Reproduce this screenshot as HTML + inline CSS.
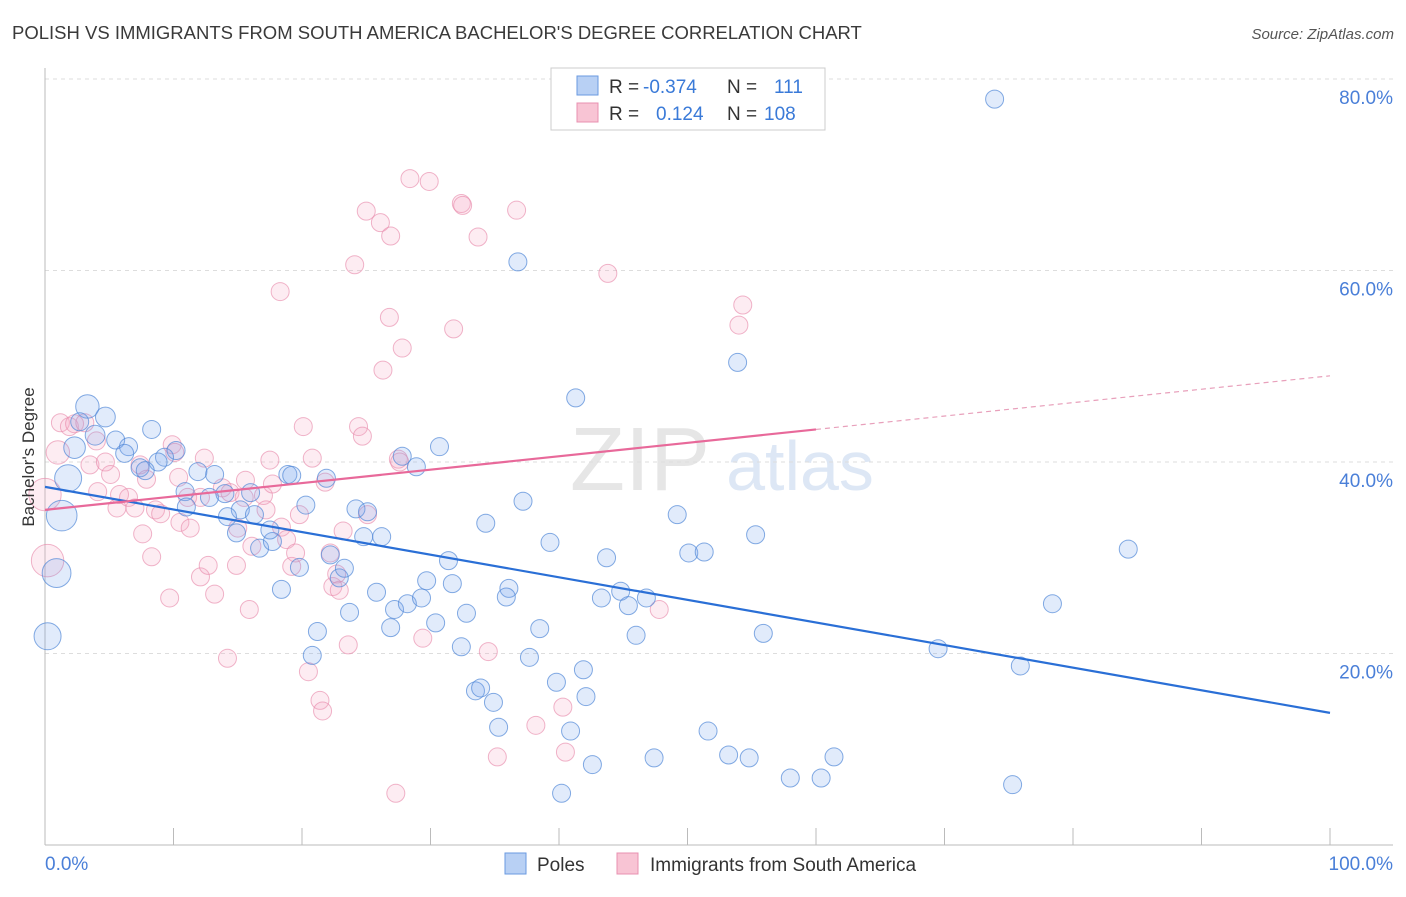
<!DOCTYPE html>
<html><head><meta charset="utf-8"><style>
body{margin:0;background:#fff;font-family:"Liberation Sans",sans-serif;}
svg text{font-family:"Liberation Sans",sans-serif;}
</style></head><body>
<svg id="chart" width="1406" height="892">
<text x="12" y="39" font-size="18.5" fill="#3a3a3a">POLISH VS IMMIGRANTS FROM SOUTH AMERICA BACHELOR'S DEGREE CORRELATION CHART</text>
<text x="1394" y="39" font-size="15" fill="#555" font-style="italic" text-anchor="end">Source: ZipAtlas.com</text>
<text x="640" y="490" font-size="90" fill="#e6e6e6" font-family="Liberation Serif" text-anchor="middle">ZIP</text>
<text x="800" y="490" font-size="70" fill="#dde7f5" text-anchor="middle">atlas</text>
<g id="grid"></g><g id="axes"></g><g id="pts"></g><g id="lines"></g>
<text transform="translate(34,457) rotate(-90)" font-size="17" fill="#333" text-anchor="middle">Bachelor's Degree</text>
<text x="45" y="870" font-size="19" fill="#4a7fd8">0.0%</text>
<text x="1393" y="870" font-size="19" fill="#4a7fd8" text-anchor="end">100.0%</text>
<g>
<rect x="551" y="68" width="274" height="62" fill="#fff" stroke="#ccc"/>
<rect x="577" y="76" width="21" height="19" fill="#b8d0f4" stroke="#6a9ae0"/>
<rect x="577" y="103" width="21" height="19" fill="#f8c4d4" stroke="#e890b0"/>
<text x="609" y="93" font-size="19" fill="#333">R =</text><text x="643" y="93" font-size="19" fill="#3a7ad8">-0.374</text>
<text x="727" y="93" font-size="19" fill="#333">N =</text><text x="774" y="93" font-size="19" fill="#3a7ad8">111</text>
<text x="609" y="120" font-size="19" fill="#333">R =</text><text x="656" y="120" font-size="19" fill="#3a7ad8">0.124</text>
<text x="727" y="120" font-size="19" fill="#333">N =</text><text x="764" y="120" font-size="19" fill="#3a7ad8">108</text>
</g>
<g>
<rect x="505" y="853" width="21" height="21" fill="#b8d0f4" stroke="#6a9ae0"/>
<text x="537" y="871" font-size="19" fill="#333">Poles</text>
<rect x="617" y="853" width="21" height="21" fill="#f8c4d4" stroke="#e890b0"/>
<text x="650" y="871" font-size="19" fill="#333">Immigrants from South America</text>
</g>
</svg>
<script>
const yTicks=[20,40,60,80];
const yTickLabels=["20.0%","40.0%","60.0%","80.0%"];
const xTicks=[0,10,20,30,40,50,60,70,80,90,100];
const polesX=[73.9,36.8,53.9,41.3,3.3,4.7,2.7,3.9,8.3,5.5,6.5,2.3,6.2,10.2,9.3,8.8,7.4,7.8,1.8,11.9,13.2,18.9,19.2,21.9,27.8,28.9,30.7,1.3,0.9,0.2,10.9,12.8,14.0,16.0,11.0,15.2,14.2,16.3,20.3,14.9,16.7,17.7,17.5,22.2,24.2,25.1,24.8,26.2,19.8,22.9,23.3,18.4,25.8,29.7,31.4,31.7,34.3,37.2,39.3,43.7,49.2,50.1,51.3,55.3,84.3,27.2,28.2,29.3,32.8,36.1,35.9,43.3,44.8,45.4,46.8,46.0,26.9,30.4,21.2,20.8,23.7,32.4,38.5,37.7,41.9,39.8,42.1,33.5,33.9,34.9,35.3,40.9,42.6,40.2,47.4,51.6,53.2,54.8,55.9,58.0,60.4,61.4,69.5,75.9,78.4,75.3];
const polesY=[77.9,60.9,50.4,46.7,45.8,44.7,44.2,42.8,43.4,42.3,41.6,41.5,40.9,41.2,40.5,40.0,39.4,39.1,38.3,39.0,38.7,38.7,38.6,38.3,40.6,39.5,41.6,34.4,28.4,21.8,36.9,36.3,36.7,36.8,35.3,35.0,34.3,34.5,35.5,32.6,31.0,31.7,32.9,30.3,35.1,34.8,32.2,32.2,29.0,27.9,28.9,26.7,26.4,27.6,29.7,27.3,33.6,35.9,31.6,30.0,34.5,30.5,30.6,32.4,30.9,24.6,25.2,25.8,24.2,26.8,25.9,25.8,26.5,25.0,25.8,21.9,22.7,23.2,22.3,19.8,24.3,20.7,22.6,19.6,18.3,17.0,15.5,16.1,16.4,14.9,12.3,11.9,8.4,5.4,9.1,11.9,9.4,9.1,22.1,7.0,7.0,9.2,20.5,18.7,25.2,6.3];
const polesBig=[0,0,0,0,1.3,1.1,1,1.1,0,1,0,1.2,0,0,0,0,0,0,1.5,0,0,0,0,0,0,0,0,1.7,1.6,1.5];
const immX=[28.4,29.9,32.4,32.5,25.0,36.7,26.1,26.9,33.7,24.1,43.8,18.3,54.3,54.0,26.8,31.8,27.8,26.3,20.1,24.4,24.7,1.2,1.9,2.3,3.1,1.0,0,0.2,4.0,3.5,4.7,5.1,4.1,5.6,5.8,6.5,7.0,7.6,7.4,7.9,8.3,8.6,9.0,9.9,10.1,10.4,10.5,11.1,11.3,12.1,9.7,12.1,12.7,12.4,13.2,13.8,14.4,14.9,15.0,15.6,16.1,15.9,14.2,17.0,17.2,17.5,17.7,18.4,18.8,19.2,19.5,20.8,21.8,22.2,22.4,22.7,23.2,23.6,20.5,21.4,21.6,22.9,25.1,27.5,27.6,29.4,34.5,35.2,38.2,40.3,40.5,27.3,47.8,19.8,15.5];
const immY=[69.6,69.3,67.0,66.8,66.2,66.3,65.0,63.6,63.5,60.6,59.7,57.8,56.4,54.3,55.1,53.9,51.9,49.6,43.7,43.7,42.7,44.1,43.7,44.0,44.1,41.0,36.6,29.7,42.2,39.7,40.0,38.7,36.9,35.2,36.6,36.3,35.2,32.5,39.7,38.2,30.1,35.0,34.6,41.8,41.0,38.4,33.7,36.3,33.1,36.3,25.8,28.0,29.2,40.4,26.2,37.3,36.8,29.2,33.1,38.1,31.2,24.6,19.5,36.5,35.0,40.2,37.7,33.2,31.9,29.1,30.5,40.4,37.9,30.5,27.0,28.3,32.8,20.9,18.1,15.1,14.0,26.6,34.5,40.3,40.0,21.6,20.2,9.2,12.5,14.4,9.7,5.4,24.6,34.5,36.3];
const immBig=[0,0,0,0,0,0,0,0,0,0,0,0,0,0,0,0,0,0,0,0,0,1,1,1,1,1.3,1.8,1.8];
const polesTrend=[37.4,13.8];
const immTrend=[35.0,49.0];
const immSolidEnd=60;

const sx=v=>45+v*12.85, sy=v=>845-v*9.575;
const NS="http://www.w3.org/2000/svg";
function mk(tag,attrs,parent){const e=document.createElementNS(NS,tag);for(const k in attrs)e.setAttribute(k,attrs[k]);document.getElementById(parent).appendChild(e);return e;}
yTicks.forEach((t,i)=>{
  const l=mk('line',{x1:45,x2:1393,y1:sy(t),y2:sy(t),stroke:'#ddd','stroke-dasharray':'4,4'},'grid');
  
  
  const tx=mk('text',{x:1393,y:sy(t)+25,'font-size':19,fill:'#4a7fd8','text-anchor':'end'},'grid');
  tx.textContent=yTickLabels[i];
  
  
});
const ax=mk('line',{x1:45,x2:1393,y1:845,y2:845,stroke:'#bbb'},'axes');


const ay=mk('line',{x1:45,x2:45,y1:68,y2:845,stroke:'#bbb'},'axes');


xTicks.forEach(t=>{
  const l=mk('line',{x1:sx(t),x2:sx(t),y1:828,y2:845,stroke:'#bbb'},'axes');
  
  
});
function pts(X,Y,B,fill,stroke,name){
  X.forEach((x,i)=>{
    const r=9*((B[i])||1);
    const c=mk('circle',{cx:sx(x),cy:sy(Y[i]),r:r,fill:fill,stroke:stroke,'stroke-width':1},'pts');
    
    
  });
}
pts(immX,immY,immBig,'rgba(244,170,195,0.22)','rgba(232,140,172,0.65)','immigrants-point');
pts(polesX,polesY,polesBig,'rgba(120,165,235,0.22)','rgba(80,135,215,0.7)','poles-point');
const bl=mk('line',{x1:sx(0),y1:sy(polesTrend[0]),x2:sx(100),y2:sy(polesTrend[1]),stroke:'#2a6fd6','stroke-width':2.2},'lines');


const iy=x=>immTrend[0]+(immTrend[1]-immTrend[0])*x/100;
const pl=mk('line',{x1:sx(0),y1:sy(iy(0)),x2:sx(immSolidEnd),y2:sy(iy(immSolidEnd)),stroke:'#e8699a','stroke-width':2.2},'lines');


const pd=mk('line',{x1:sx(immSolidEnd),y1:sy(iy(immSolidEnd)),x2:sx(100),y2:sy(iy(100)),stroke:'#e8a0bb','stroke-width':1.2,'stroke-dasharray':'5,4'},'lines');


</script>
</body></html>
